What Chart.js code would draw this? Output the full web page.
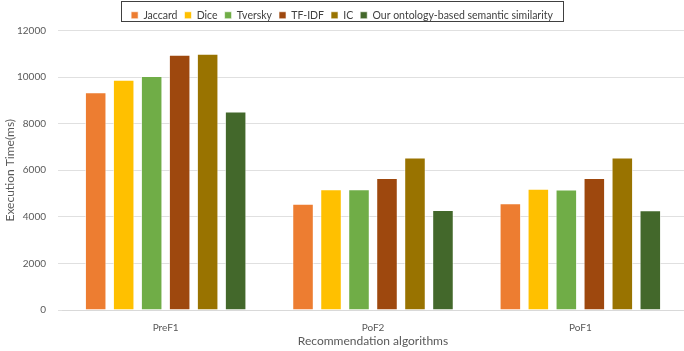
<!DOCTYPE html>
<html>
<head>
<meta charset="utf-8">
<script src="https://cdn.jsdelivr.net/npm/chart.js@4/dist/chart.umd.min.js"></script>
<style>
  html, body { margin: 0; padding: 0; background: #fff; }
  #wrap { width: 684px; height: 351px; }
</style>
</head>
<body>
<div id="wrap"><canvas id="execChart"></canvas></div>
<script>
const categories = ['PreF1', 'PoF2', 'PoF1'];
const seriesNames = ['Jaccard', 'Dice', 'Tversky', 'TF-IDF', 'IC', 'Our ontology-based semantic similarity'];
const jaccard = [9350, 4560, 4580];
const dice = [9890, 5180, 5210];
const tversky = [10050, 5180, 5170];
const tfidf = [10960, 5670, 5670];
const ic = [11000, 6550, 6550];
const ours = [8520, 4290, 4280];
const yTicks = [0, 2000, 4000, 6000, 8000, 10000, 12000];
const colors = ['#ED7D31', '#FFC000', '#70AD47', '#9E480E', '#997300', '#43682B'];

const allValues = [jaccard, dice, tversky, tfidf, ic, ours];
const font = "Lato, 'Open Sans', sans-serif";

// outline round the legend items, like the original
const legendBox = {
  id: 'legendBox',
  afterDraw(chart) {
    const hb = chart.legend.legendHitBoxes;
    if (!hb || !hb.length) return;
    const left = Math.min(...hb.map(h => h.left)) - 10;
    const right = Math.max(...hb.map(h => h.left + h.width)) + 10;
    const c = chart.ctx;
    c.save();
    c.strokeStyle = '#404040';
    c.lineWidth = 1;
    c.strokeRect(Math.round(left) + 0.5, 1.5, Math.round(right - left), 20);
    c.restore();
  }
};

let ctx = document.getElementById('execChart').getContext('2d');

let execChart = new Chart(ctx, {
  type: 'bar',
  data: {
    labels: categories,
    datasets: seriesNames.map((name, i) => ({
      label: name,
      data: allValues[i],
      backgroundColor: colors[i],
      borderColor: 'rgba(255,255,255,0.6)',
      borderWidth: 1,
      categoryPercentage: 0.81,
      barPercentage: 0.77
    }))
  },
  options: {
    responsive: true,
    maintainAspectRatio: false,
    animation: false,
    devicePixelRatio: 1,
    layout: { padding: { left: 0, right: 0, top: 3, bottom: 0 } },
    plugins: {
      legend: {
        position: 'top',
        labels: {
          boxWidth: 7,
          boxHeight: 7,
          padding: 7,
          color: '#404040',
          font: { family: font, size: 10.5 }
        }
      },
      tooltip: { enabled: false }
    },
    scales: {
      x: {
        afterFit(scale) { scale.height = 41; },
        grid: { display: false, drawTicks: false },
        border: { display: true, color: '#d9d9d9' },
        ticks: { color: '#595959', padding: 12, font: { family: font, size: 10 } },
        title: {
          display: true,
          text: 'Recommendation algorithms',
          color: '#595959',
          padding: { top: 2, bottom: 3 },
          font: { family: font, size: 12 }
        }
      },
      y: {
        min: 0,
        max: 12000,
        afterBuildTicks(scale) { scale.ticks = yTicks.map(v => ({ value: v })); },
        afterFit(scale) { scale.width = 62; },
        grid: { color: '#e0e0e0', drawTicks: true, tickLength: 4, tickColor: '#e0e0e0' },
        border: { display: false },
        ticks: {
          color: '#595959',
          padding: 12,
          font: { family: font, size: 10 },
          callback: v => String(v)
        },
        title: {
          display: true,
          text: 'Execution Time(ms)',
          color: '#595959',
          padding: { top: 3, bottom: 0 },
          font: { family: font, size: 12 }
        }
      }
    }
  },
  plugins: [legendBox]
});
</script>
</body>
</html>
